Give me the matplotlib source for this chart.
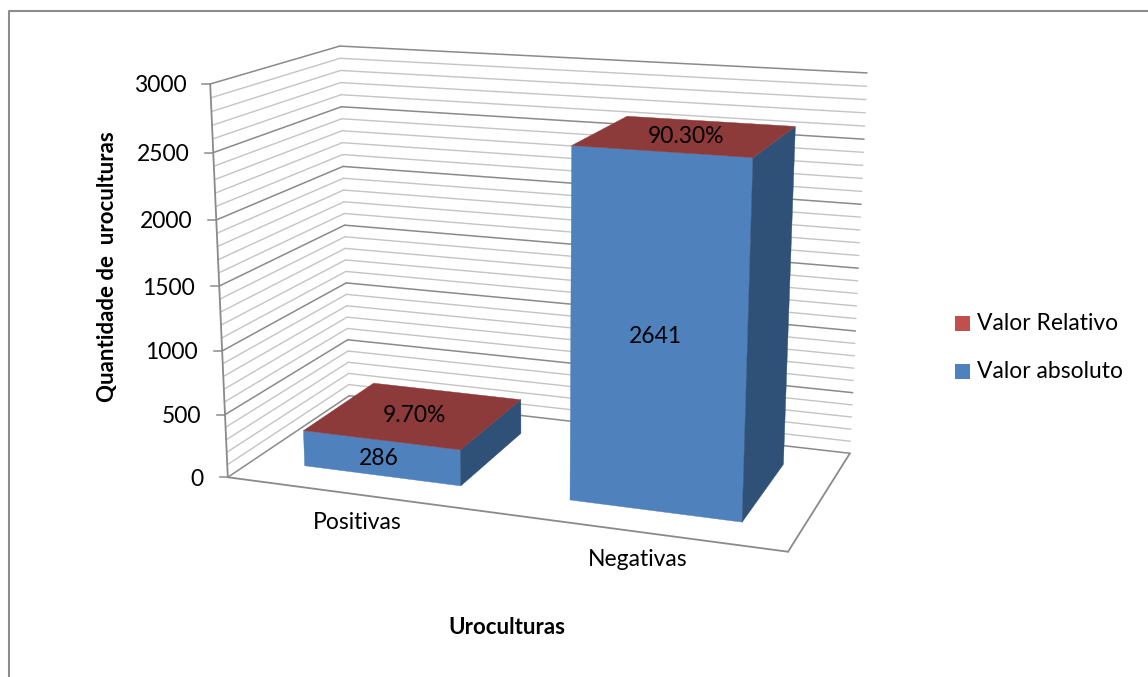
import numpy as np
import matplotlib
matplotlib.use("Agg")
import matplotlib.pyplot as plt

categories = ["Positivas", "Negativas"]
valor_absoluto = [286, 2641]
valor_relativo = [0.097, 0.903]
ticks = [0, 500, 1000, 1500, 2000, 2500, 3000]
minor_step = 100
z_max = 3000

plt.rcParams['font.family'] = ['Lato', 'DejaVu Sans']

# where the corners of the 3d box land in the picture (x, depth, height) -> pixels
box_corners = [
    ((0, 0, 0), (228, 477)),
    ((0, 0, 1), (210, 84)),
    ((0, 1, 1), (340, 46)),
    ((1, 1, 1), (867, 73)),
    ((1, 0, 0), (788, 552)),
    ((1, 1, 0), (850, 453)),
    ((0, 1, 0), (349, 396)),
]


def fit_camera(corners):
    rows = []
    for (X, Y, Z), (u, v) in corners:
        rows.append([X, Y, Z, 1, 0, 0, 0, 0, -u * X, -u * Y, -u * Z, -u])
        rows.append([0, 0, 0, 0, X, Y, Z, 1, -v * X, -v * Y, -v * Z, -v])
    _, _, vt = np.linalg.svd(np.array(rows, dtype=float))
    return vt[-1].reshape(3, 4)


cam = fit_camera(box_corners)


def proj(x, y, value):
    p = cam @ np.array([x, y, value / z_max, 1.0])
    return p[0] / p[2], p[1] / p[2]


def line3d(ax, a, b, **kw):
    pa, pb = proj(*a), proj(*b)
    ax.plot([pa[0], pb[0]], [pa[1], pb[1]], solid_capstyle='round', **kw)


def face(ax, pts, color):
    xy = np.array([proj(*p) for p in pts])
    ax.fill(xy[:, 0], xy[:, 1], color=color, lw=0.3, zorder=4)


fig = plt.figure(figsize=(11.48, 6.77), dpi=100)
ax = fig.add_axes([0, 0, 1, 1])
ax.set_xlim(0, 1148)
ax.set_ylim(677, 0)
ax.axis('off')

# outer frame of the chart
frame_col = '#8c8c8c'
ax.plot([8.5, 8.5, 1148], [677, 10.5, 10.5], color=frame_col, lw=1.5)

light = '#c4c4c4'
dark = '#8a8a8a'
for v in range(0, z_max + 1, minor_step):
    major = v % 500 == 0
    col = dark if major else light
    lw = 1.1 if major else 1.0
    line3d(ax, (0, 0, v), (0, 1, v), color=col, lw=lw, zorder=1)
    line3d(ax, (0, 1, v), (1, 1, v), color=col, lw=lw, zorder=1)

# floor and axis
line3d(ax, (0, 0, 0), (0, 0, z_max), color=dark, lw=1.3, zorder=2)
line3d(ax, (0, 0, 0), (1, 0, 0), color=dark, lw=1.3, zorder=2)
line3d(ax, (1, 0, 0), (1, 1, 0), color=dark, lw=1.3, zorder=2)

for t in ticks:
    px, py = proj(0, 0, t)
    ax.plot([px - 8, px], [py, py], color=dark, lw=1.1, zorder=2)
    ax.text(px - 24, py + 2, str(t), ha='right', va='center', fontsize=16.5, color='black')

bar_width = 0.3
depth0, depth1 = 0.2, 0.8
blue = '#4f81bd'
blue_side = '#2f5178'
red_top = '#8c3a3a'
red_front = '#c0504d'

for i, cat in enumerate(categories):
    center = (i + 0.5) / len(categories)
    x0, x1 = center - bar_width / 2, center + bar_width / 2
    h = valor_absoluto[i]
    top = h + valor_relativo[i]
    # blue block then the almost flat red one on top of it
    face(ax, [(x0, depth0, 0), (x1, depth0, 0), (x1, depth0, h), (x0, depth0, h)], blue)
    face(ax, [(x1, depth0, 0), (x1, depth1, 0), (x1, depth1, h), (x1, depth0, h)], blue_side)
    face(ax, [(x0, depth0, top), (x1, depth0, top), (x1, depth1, top), (x0, depth1, top)], red_top)

    fx, fy = proj(center, depth0, h / 2)
    ax.text(fx - 2, fy + 1, str(h), ha='center', va='center', fontsize=16.5, zorder=5)
    tx, ty = proj(center, 0.5, top)
    ax.text(tx, ty + 1, '%.2f%%' % (valor_relativo[i] * 100), ha='center', va='center',
            fontsize=16.5, zorder=5)

    # category label sits below the front edge
    lx, ly = proj(center, 0, 0)
    ax.text(lx, ly + 28, cat, ha='center', va='center', fontsize=16.5)

ax.text(108, 267, 'Quantidade de  uroculturas', rotation=90, ha='center', va='center',
        fontsize=16, fontweight='bold')
ax.text(507, 627, 'Uroculturas', ha='center', va='center', fontsize=16, fontweight='bold')

# legend
for y, col, name in [(316, red_front, 'Valor Relativo'), (364, blue, 'Valor absoluto')]:
    ax.fill([955, 970, 970, 955], [y, y, y + 15, y + 15], color=col, lw=0)
    ax.text(977, y + 7.5, name, ha='left', va='center', fontsize=16.5)

fig.savefig('out.png', dpi=100)
